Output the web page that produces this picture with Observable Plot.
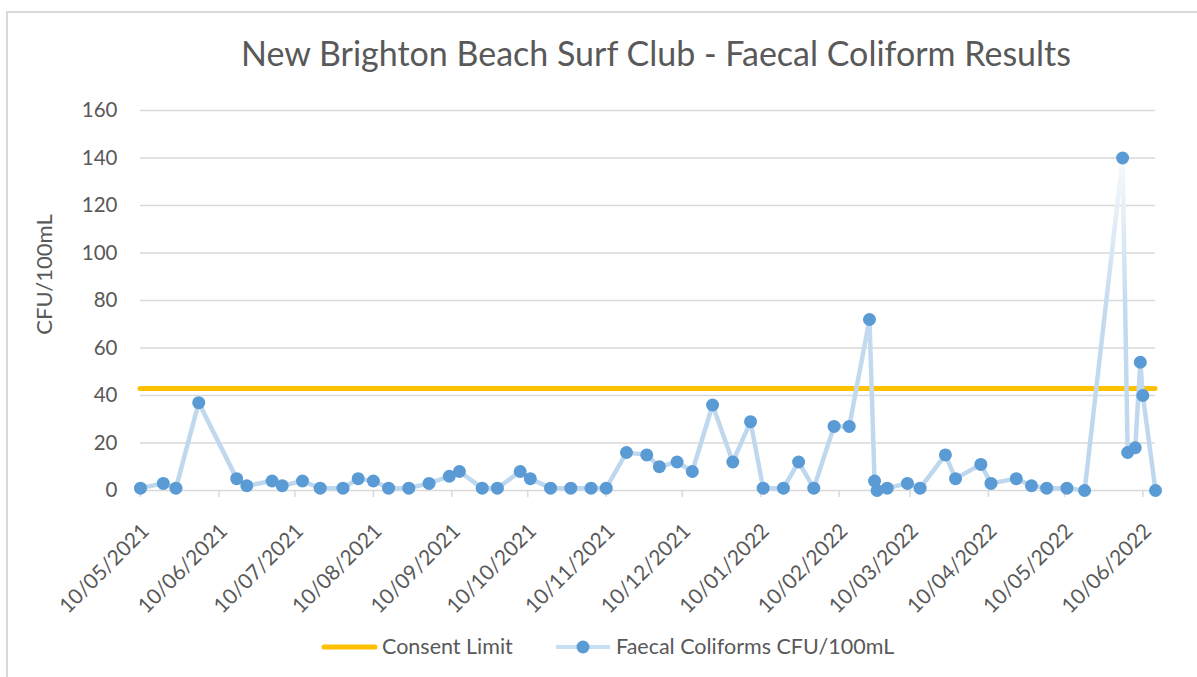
<!DOCTYPE html>
<html>
<head>
<meta charset="utf-8">
<script src="https://cdn.jsdelivr.net/npm/d3@7"></script>
<script src="https://cdn.jsdelivr.net/npm/@observablehq/plot@0.6"></script>
<style>
  body { margin: 0; background: #fff; font-family: Lato, "Open Sans", sans-serif; }
  #wrap { position: relative; width: 1197px; height: 677px; overflow: hidden; background: #fff; }
  #frame { position: absolute; left: 6px; top: 11px; width: 1220px; height: 720px; border-left: 2px solid #D9D9D9; border-top: 2px solid #D9D9D9; }
  #title { position: absolute; left: 656px; top: 36px; transform: translateX(-50%); white-space: nowrap; font-size: 34px; line-height: 1; color: #595959; }
  #chart { position: absolute; left: 0; top: 90px; }
  .leg-sw { position: absolute; }
  .leg-tx { position: absolute; font-size: 21.5px; line-height: 1; color: #595959; white-space: nowrap; }
</style>
</head>
<body>
<svg width="0" height="0" style="position:absolute">
  <defs>
    <linearGradient id="seriesGrad" x1="0" y1="1" x2="0" y2="0">
      <stop offset="0" stop-color="#BDD7EE"></stop>
      <stop offset="0.55" stop-color="#C4DBEF"></stop>
      <stop offset="1" stop-color="#F7FAFD"></stop>
    </linearGradient>
  </defs>
</svg>
<div id="wrap">
  <div id="frame"></div>
  <div id="title">New Brighton Beach Surf Club - Faecal Coliform Results</div>
  <div id="chart"></div>
  <svg class="leg-sw" style="left:318px;top:633px" width="64" height="28">
    <line x1="6" y1="14" x2="57" y2="14" stroke="#FFC000" stroke-width="5" stroke-linecap="round"></line>
  </svg>
  <div class="leg-tx" id="leg1" style="left:382px;top:636px">Consent Limit</div>
  <svg class="leg-sw" style="left:552px;top:633px" width="64" height="28">
    <line x1="4" y1="14" x2="58" y2="14" stroke="#C9DFF2" stroke-width="4"></line>
    <circle cx="31" cy="14" r="6.5" fill="#5B9BD5"></circle>
  </svg>
  <div class="leg-tx" id="leg2" style="left:616px;top:636px">Faecal Coliforms CFU/100mL</div>
</div>
<script>
// ---- data ----
const sampleDates = [
  "2021-05-10","2021-05-19","2021-05-24","2021-06-02","2021-06-17","2021-06-21",
  "2021-07-01","2021-07-05","2021-07-13","2021-07-20","2021-07-29",
  "2021-08-04","2021-08-10","2021-08-16","2021-08-24",
  "2021-09-01","2021-09-09","2021-09-13","2021-09-22","2021-09-28",
  "2021-10-07","2021-10-11","2021-10-19","2021-10-27",
  "2021-11-04","2021-11-10","2021-11-18","2021-11-26",
  "2021-12-01","2021-12-08","2021-12-14","2021-12-22","2021-12-30",
  "2022-01-06","2022-01-11","2022-01-19","2022-01-25","2022-01-31",
  "2022-02-08","2022-02-14","2022-02-22","2022-02-24","2022-02-25",
  "2022-03-01","2022-03-09","2022-03-14","2022-03-24","2022-03-28",
  "2022-04-07","2022-04-11","2022-04-21","2022-04-27",
  "2022-05-03","2022-05-11","2022-05-18",
  "2022-06-02","2022-06-04","2022-06-07","2022-06-09","2022-06-10","2022-06-15"
];
const coliformValues = [
  1,3,1,37,5,2,
  4,2,4,1,1,
  5,4,1,1,
  3,6,8,1,1,
  8,5,1,1,
  1,1,16,15,
  10,12,8,36,12,
  29,1,1,12,1,
  27,27,72,4,0,
  1,3,1,15,5,
  11,3,5,2,
  1,1,0,
  140,16,18,54,40,0
];
const consentLimit = 43;
const xTickDates = [
  "2021-05-10","2021-06-10","2021-07-10","2021-08-10","2021-09-10","2021-10-10","2021-11-10",
  "2021-12-10","2022-01-10","2022-02-10","2022-03-10","2022-04-10","2022-05-10","2022-06-10"
];
const yTicks = [0, 20, 40, 60, 80, 100, 120, 140, 160];
const yLabel = "CFU/100mL";

// ---- build ----
const parse = d3.utcParse("%Y-%m-%d");
const fmt = d3.utcFormat("%d/%m/%Y");
const rows = sampleDates.map((d, i) => ({date: parse(d), value: coliformValues[i]}));
const xDomain = d3.extent(rows, d => d.date);
const ticks = xTickDates.map(parse);

const chart = Plot.plot({
  width: 1197,
  height: 540,
  marginTop: 20,
  marginBottom: 140,
  marginLeft: 140,
  marginRight: 42,
  style: {fontFamily: "Lato, 'Open Sans', sans-serif", fontSize: "20.5px", color: "#595959", background: "transparent", overflow: "visible"},
  x: {type: "utc", domain: xDomain},
  y: {domain: [0, 160]},
  marks: [
    Plot.gridY(yTicks, {stroke: "#D9D9D9", strokeOpacity: 1, strokeWidth: 1.5}),
    Plot.axisY(yTicks, {tickSize: 0, tickPadding: 23, label: null, fill: "#595959"}),
    Plot.axisX(ticks, {tickFormat: fmt, tickRotate: -45, tickSize: 7, stroke: "#D9D9D9", strokeWidth: 1.5, fill: "#595959", label: null, tickPadding: 6, fontSize: 21}),
    Plot.text([yLabel], {frameAnchor: "left", textAnchor: "middle", dx: -96, dy: -26, rotate: -90, text: d => d, fill: "#595959", fontSize: 22}),
    Plot.ruleY([consentLimit], {x1: xDomain[0], x2: xDomain[1], stroke: "#FFC000", strokeWidth: 5, strokeLinecap: "round"}),
    Plot.lineY(rows, {x: "date", y: "value", stroke: "url(#seriesGrad)", strokeWidth: 4.5, strokeLinejoin: "round", strokeLinecap: "round"}),
    Plot.dot(rows, {x: "date", y: "value", r: 6.5, fill: "#5B9BD5", stroke: "none"})
  ]
});
// shift rotated x tick labels to sit lower, as in the reference
chart.querySelectorAll("g[aria-label='x-axis tick label']").forEach(g => {
  const t = g.getAttribute("transform") || "";
  g.setAttribute("transform", (t + " translate(5,24)").trim());
});
document.getElementById("chart").appendChild(chart);
</script>
</body>
</html>
